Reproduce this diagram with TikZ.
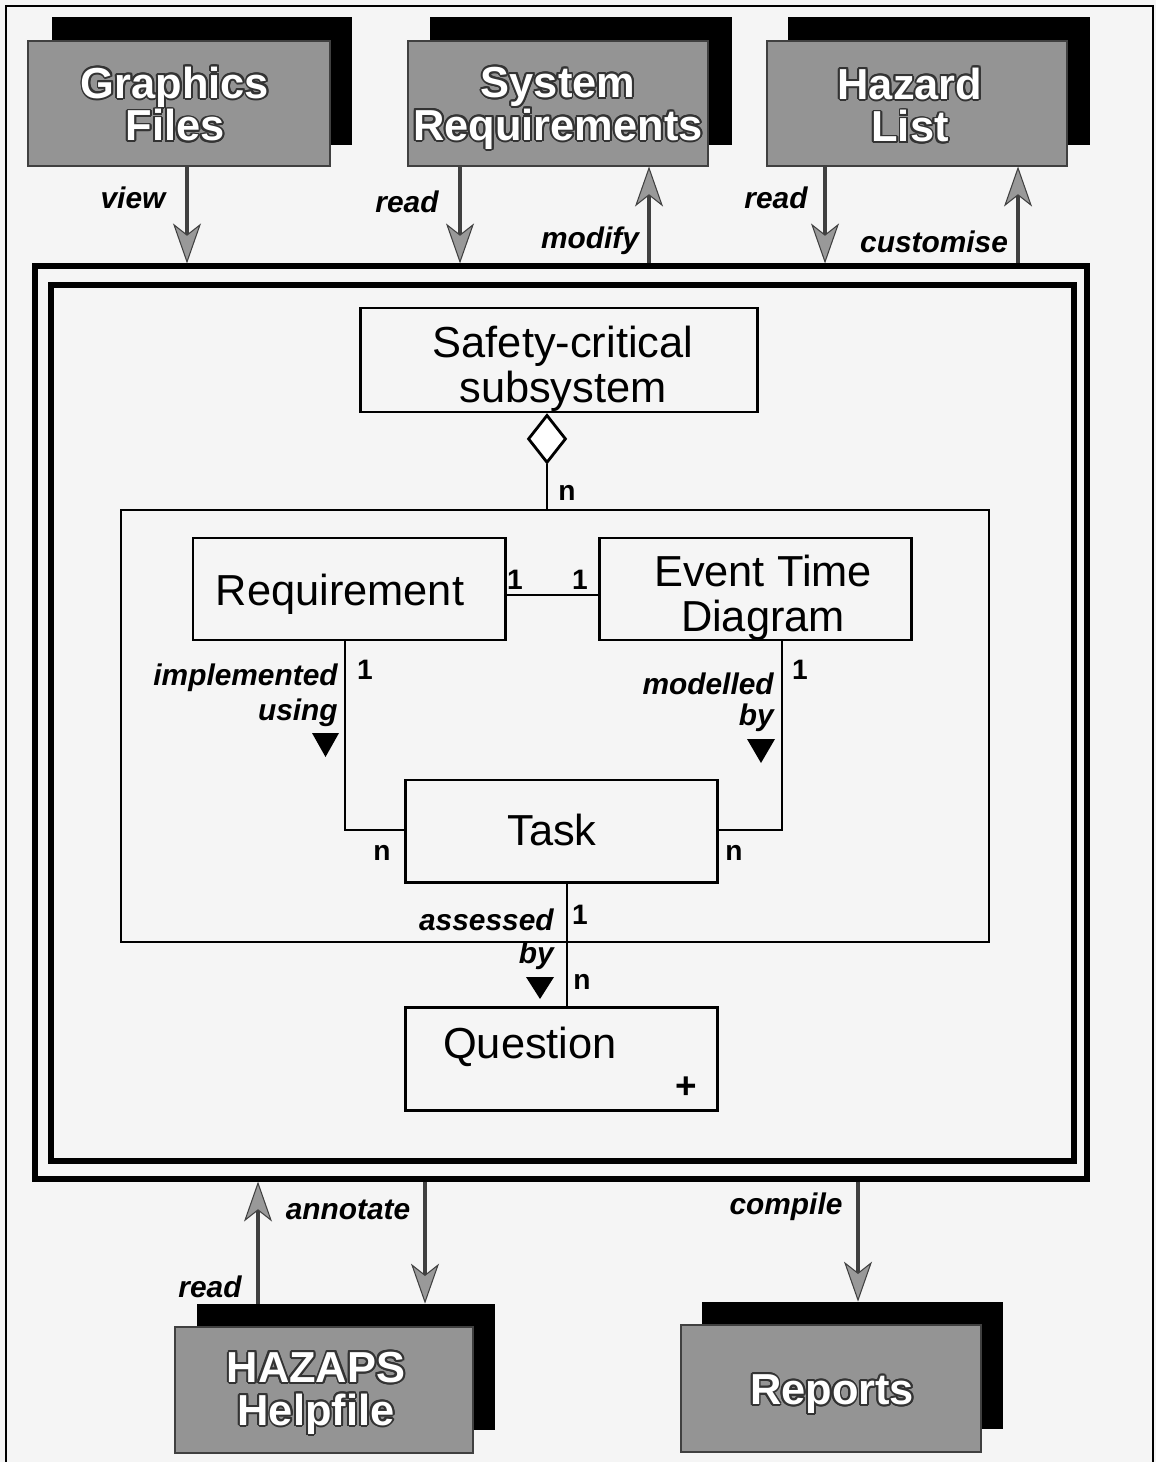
\documentclass[tikz,border=0pt]{standalone}
\usepackage{fontspec}
\setmainfont{Liberation Sans}
\usepackage{contour}
\contourlength{1.1pt}
\usetikzlibrary{arrows.meta,fit,shapes.geometric,calc}

% type sizes
\newcommand{\umltext}{\fontsize{24.7}{25.5}\selectfont}
\newcommand{\filetext}{\fontsize{24.7}{24.4}\selectfont\bfseries}
\newcommand{\lbltext}{\fontsize{17}{20}\selectfont\bfseries\itshape}
\newcommand{\multtext}{\fontsize{16}{18}\selectfont\bfseries}
\newcommand{\outl}[1]{\contour{black!80}{#1}}

\begin{document}
\begin{tikzpicture}[x=0.02cm,y=-0.02cm,
  shadowbox/.style={fill=black,draw=none,inner sep=0pt},
  filebox/.style={fill=black!42,draw=black!75,line width=0.6pt,inner sep=0pt},
  filename/.style={font=\filetext,text=white,align=center,inner sep=0pt},
  umlbox/.style={draw,line width=1.7pt,inner sep=0pt},
  umlname/.style={font=\umltext,align=center,inner sep=0pt},
  groupbox/.style={draw,line width=1.5pt,inner sep=0pt},
  frameline/.style={draw,line width=2.9pt,inner sep=0pt},
  assoc/.style={line width=1.6pt},
  flow/.style={line width=2.3pt,draw=black!75,
    -{Stealth[length=0.8cm,width=0.56cm,inset=0.22cm,fill=black!40,line width=0.6pt]}},
  flowlbl/.style={font=\lbltext,inner sep=0pt},
  mult/.style={font=\multtext,inner sep=0pt},
  aggdiamond/.style={diamond,draw,line width=1.6pt,fill=white,inner sep=0pt,
    minimum width=0.76cm,minimum height=0.96cm},
]
\useasboundingbox (0,0) rectangle (1156,1462);
\fill[black!4] (0,0) rectangle (1156,1462);
\draw[line width=0.7pt] (6,1462) -- (6,6) -- (1153,6) -- (1153,1462);

% ---------- data stores (top) ----------
\node[shadowbox,fit={(52,17) (352,145)}] (gfs) {};
\node[filebox,fit={(28,41) (330,166)}] (gf) {};
\node[filename] (gft) at (175,105) {\outl{Graphics}\\\outl{Files}};
\node[shadowbox,fit={(430,17) (732,145)}] (srs) {};
\node[filebox,fit={(408,41) (708,166)}] (sr) {};
\node[filename] (srt) at (558,109) {\outl{System}\\\outl{Requirements}};
\node[shadowbox,fit={(788,17) (1090,145)}] (hls) {};
\node[filebox,fit={(767,41) (1067,166)}] (hl) {};
\node[filename] (hlt) at (910,106) {\outl{Hazard}\\\outl{List}};

% ---------- data stores (bottom) ----------
\node[shadowbox,fit={(197,1304) (495,1430)}] (hzs) {};
\node[filebox,fit={(175,1327) (473,1453)}] (hz) {};
\node[filename] (hzt) at (316,1394) {\outl{HAZAPS}\\\outl{Helpfile}};
\node[shadowbox,fit={(702,1302) (1003,1429)}] (rps) {};
\node[filebox,fit={(681,1325) (981,1452)}] (rp) {};
\node[filename] (rpt) at (832,1395) {\outl{Reports}};

% ---------- tool boundary (double frame) ----------
\node[frameline,fit={(35,266) (1087,1179)}] (frame) {};
\node[frameline,fit={(51,285) (1074,1161)}] (iframe) {};

% ---------- data flows ----------
\coordinate (xview) at (187,0);
\coordinate (xsrr) at (460,0);
\coordinate (xsrm) at (649,0);
\coordinate (xhlr) at (825,0);
\coordinate (xhlc) at (1018,0);
\coordinate (xhzr) at (258,0);
\coordinate (xhza) at (425,0);
\coordinate (xrpc) at (858,0);

\draw[flow] (gf.south -| xview) -- (frame.north -| xview);
\draw[flow] (sr.south -| xsrr) -- (frame.north -| xsrr);
\draw[flow] (frame.north -| xsrm) -- (sr.south -| xsrm);
\draw[flow] (hl.south -| xhlr) -- (frame.north -| xhlr);
\draw[flow] (frame.north -| xhlc) -- (hl.south -| xhlc);
\draw[flow] (hzs.north -| xhzr) -- (frame.south -| xhzr);
\draw[flow] (frame.south -| xhza) -- (hzs.north -| xhza);
\draw[flow] (frame.south -| xrpc) -- (rps.north -| xrpc);

\node[flowlbl] (lview) at (133,198) {view};
\node[flowlbl] (lsrr) at (407,202) {read};
\node[flowlbl] (lsrm) at (590,241) {modify};
\node[flowlbl] (lhlr) at (776,198) {read};
\node[flowlbl] (lhlc) at (934,242) {customise};
\node[flowlbl] (lhzr) at (210,1287) {read};
\node[flowlbl] (lhza) at (348,1210) {annotate};
\node[flowlbl] (lrpc) at (786,1207) {compile};

% ---------- class model ----------
\node[umlbox,fit={(360,308) (757,412)}] (scs) {};
\node[umlname] (scst) at (563,369) {Safety-critical\\subsystem};
\node[groupbox,fit={(121,510) (989,942)}] (grp) {};
\node[umlbox,fit={(193,538) (505,640)}] (req) {};
\node[umlname] (reqt) at (340,594) {Requirement};
\node[umlbox,fit={(599,538) (911,640)}] (etd) {};
\node[umlname] (etdt) at (763,598) {Event Time\\Diagram};
\node[umlbox,fit={(405,780) (717,882)}] (task) {};
\node[umlname] (taskt) at (552,830) {Task};
\node[umlbox,fit={(405,1007) (717,1110)}] (quest) {};
\node[umlname] (questt) at (530,1047) {Question};
\node[font=\fontsize{21}{21}\selectfont\bfseries,inner sep=0pt] (qplus) at (686,1088) {+};

\coordinate (xagg) at (547,0);
\node[aggdiamond,anchor=north] (agg) at (scs.south -| xagg) {};
\draw[assoc] (agg.south) -- (agg.south |- grp.north);

\coordinate (yre) at (0,595);
\coordinate (xrq) at (345,0);
\coordinate (xet) at (782,0);
\coordinate (ytk) at (0,830);
\coordinate (xtq) at (567,0);
\draw[assoc] (req.east |- yre) -- (etd.west |- yre);
\draw[assoc] (req.south -| xrq) |- (task.west |- ytk);
\draw[assoc] (etd.south -| xet) |- (task.east |- ytk);
\draw[assoc] (task.south -| xtq) -- (quest.north -| xtq);

% multiplicities
\node[mult] (m1) at (567,493) {n};
\node[mult] (m2) at (515,580) {1};
\node[mult] (m3) at (580,580) {1};
\node[mult] (m4) at (365,670) {1};
\node[mult] (m5) at (382,853) {n};
\node[mult] (m6) at (800,670) {1};
\node[mult] (m7) at (734,853) {n};
\node[mult] (m8) at (580,915) {1};
\node[mult] (m9) at (582,982) {n};

% association names
\node[flowlbl,anchor=east] (a1) at (338,678) {implemented};
\node[flowlbl,anchor=east] (a2) at (338,713) {using};
\node[flowlbl,anchor=east] (a3) at (774,684) {modelled};
\node[flowlbl,anchor=east] (a4) at (774,718) {by};
\node[flowlbl,anchor=east] (a5) at (554,920) {assessed};
\node[flowlbl,anchor=east] (a6) at (554,956) {by};

% reading-direction markers
\fill (312,733) -- (339,733) -- (325.5,757) -- cycle;
\fill (747,739) -- (775,739) -- (761,763) -- cycle;
\fill (526,977) -- (554,977) -- (540,999) -- cycle;
\end{tikzpicture}
\end{document}
